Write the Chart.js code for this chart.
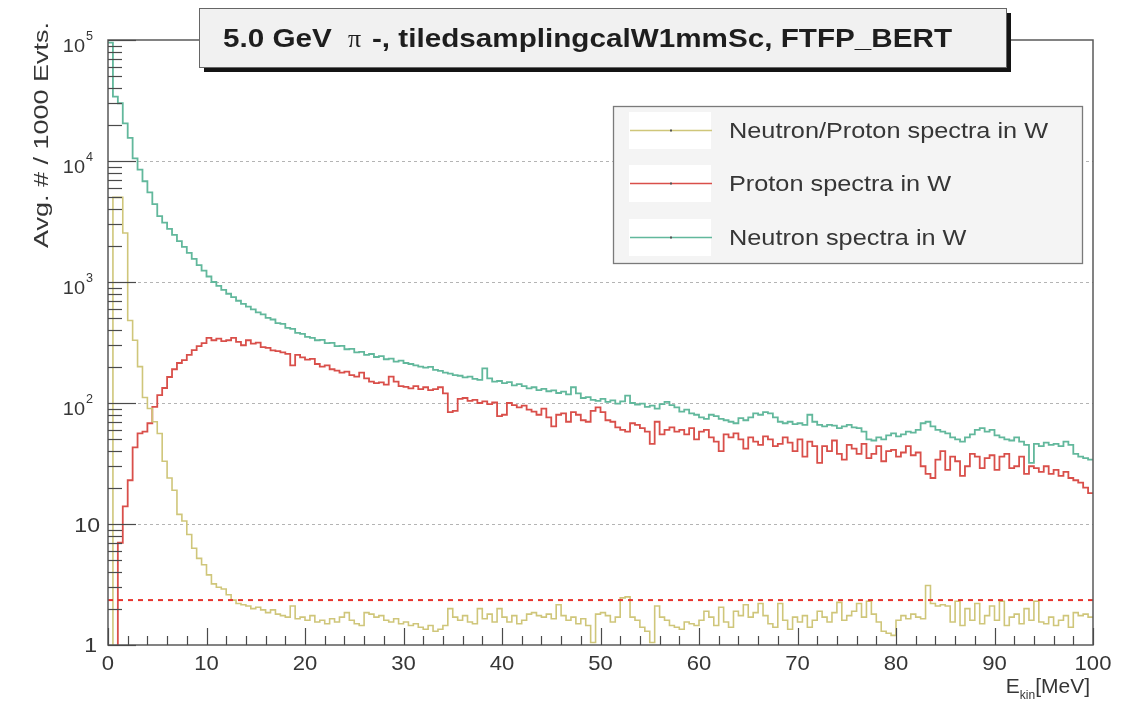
<!DOCTYPE html>
<html>
<head>
<meta charset="utf-8">
<script src="https://cdn.jsdelivr.net/npm/chart.js@4.4.0/dist/chart.umd.min.js"></script>
<style>
  html,body{margin:0;padding:0;background:#fff;}
</style>
</head>
<body>
<canvas id="c" width="1121" height="701"></canvas>
<script>
// E_kin spectra, 200 bins of 0.5 MeV from 0 to 100 MeV
const binWidth = 0.5;

const neutron = [
  95000, 34000, 30000, 20500, 15500, 10500, 8500, 6800, 5500, 4400,
  3500, 3100, 2750, 2450, 2180, 1950, 1740, 1550, 1380, 1240,
  1110, 1000, 930, 860, 800, 750, 700, 660, 625, 595,
  562, 540, 505, 490, 458, 450, 418, 410, 380, 372,
  352, 345, 330, 332, 312, 314, 295, 296, 278, 280,
  262, 265, 250, 254, 240, 244, 230, 233, 220, 224,
  214, 210, 205, 200, 196, 199, 188, 184, 178, 175,
  170, 168, 163, 165, 158, 155, 193, 160, 150, 152,
  146, 149, 140, 143, 138, 132, 135, 128, 131, 125,
  127, 121, 124, 118, 135, 120, 110, 112, 106, 104,
  108, 102, 105, 99, 103, 115, 100, 97, 99, 93,
  95, 90, 98, 102, 96, 92, 85, 88, 82, 80,
  76, 74, 80, 78, 74, 72, 70, 68, 75, 72,
  76, 82, 80, 84, 82, 76, 70, 68, 70, 67,
  68, 66, 80, 70, 66, 64, 66, 65, 62, 64,
  66, 63, 62, 58, 50, 49, 52, 50, 54, 56,
  53, 55, 58, 57, 60, 68, 70, 64, 60, 58,
  56, 52, 50, 48, 52, 55, 60, 62, 58, 60,
  54, 52, 50, 49, 52, 48, 45, 32, 46, 44,
  47, 45, 46, 44, 48, 45, 38, 36, 35, 34
];

const proton = [
  0, 0, 7, 14, 23, 43, 56, 58, 68, 93,
  116, 133, 164, 190, 214, 226, 250, 274, 295, 313,
  345, 330, 340, 325, 330, 345, 320, 300, 330, 310,
  315, 290, 285, 272, 268, 262, 255, 205, 250, 238,
  228, 232, 210, 200, 205, 190, 185, 178, 182, 170,
  165, 178, 160, 150, 146, 148, 142, 165, 150, 138,
  136, 132, 138, 130, 135, 128, 130, 135, 120, 84,
  86, 108, 110, 104, 106, 100, 103, 98, 101, 78,
  80, 100, 96, 92, 95, 88, 85, 80, 90, 76,
  64, 80, 82, 70, 84, 80, 72, 70, 86, 92,
  84, 72, 70, 63, 60, 58, 68, 66, 62, 58,
  46, 70, 55, 60, 63, 58, 60, 55, 62, 50,
  58, 60, 52, 48, 40, 55, 52, 56, 50, 42,
  52, 48, 45, 53, 50, 44, 46, 52, 47, 40,
  50, 36, 48, 44, 32, 44, 40, 49, 38, 34,
  45, 42, 38, 46, 35, 38, 44, 33, 40, 41,
  36, 39, 44, 37, 39, 30, 26, 24, 34, 40,
  28, 36, 33, 25, 30, 38, 36, 29, 35, 37,
  28, 36, 38, 29, 30, 36, 26, 30, 29, 27,
  30, 26, 28, 25, 27, 24, 23, 22, 20, 18
];

const ratio = [
  0, 5000, 5000, 2540, 480, 330, 200, 111, 90, 70,
  56, 33, 24, 19, 12, 10.6, 8.2, 6.3, 5.2, 4.6,
  3.8, 3.2, 3.0, 2.9, 2.6, 2.35, 2.2, 2.15, 2.1, 2.0,
  2.05, 1.95, 1.85, 1.95, 1.8, 1.75, 1.7, 2.1, 1.65, 1.7,
  1.6, 1.75, 1.55, 1.6, 1.5, 1.65, 1.55, 1.7, 1.85, 1.6,
  1.5, 1.45, 1.85, 1.8, 1.7, 1.75, 1.6, 1.55, 1.65, 1.5,
  1.55, 1.45, 1.5, 1.4, 1.35, 1.45, 1.3, 1.35, 1.45, 2.0,
  1.7, 1.6, 1.75, 1.55, 1.5, 2.0, 1.65, 1.8, 1.55, 2.0,
  1.7, 1.55, 1.75, 1.5, 1.6, 1.8, 1.85, 1.75, 1.7, 1.8,
  1.65, 2.15, 1.75, 1.6, 1.7, 1.5, 1.65, 1.45, 1.05, 1.8,
  1.85, 1.75, 1.55, 1.7, 2.45, 2.5, 1.7, 1.6, 1.4, 1.3,
  1.05, 2.1, 1.7, 1.6, 1.45, 1.4, 1.35, 1.55, 1.5, 1.45,
  1.6, 1.9, 1.7, 1.45, 2.05, 1.55, 1.4, 1.9, 1.75, 2.15,
  1.7, 1.85, 2.2, 1.75, 1.5, 1.4, 2.2, 1.6, 1.35, 1.7,
  1.55, 1.75, 1.4, 1.6, 1.9, 1.7, 1.55, 1.85, 2.25, 1.6,
  1.75, 1.9, 2.2, 1.7, 2.3, 1.8, 1.55, 1.3, 1.25, 1.2,
  1.6, 1.75, 1.65, 1.8, 1.7, 1.65, 3.1, 2.2, 2.1, 2.15,
  2.1, 1.55, 2.3, 1.45, 2.0, 1.6, 2.2, 1.5, 1.75, 2.1,
  1.6, 2.3, 1.45, 1.7, 1.8, 1.5, 2.0, 1.6, 2.3, 1.55,
  1.5, 1.7, 1.45, 1.6, 1.75, 1.4, 1.85, 1.75, 1.8, 1.7
];

const cutLevel = [2.35];
const xTicks = [0, 10, 20, 30, 40, 50, 60, 70, 80, 90, 100];
const yDecades = [1, 10, 100, 1000, 10000, 100000];
const legendLabels = ['Neutron/Proton spectra in W', 'Proton spectra in W', 'Neutron spectra in W'];
const titleParts = ['5.0 GeV', '\u03c0', '-, tiledsamplingcalW1mmSc, FTFP_BERT'];

const colRatio = '#cfc67a';
const colProton = '#d94f4a';
const colNeutron = '#62b89c';
const colCut = '#e8302b';
const sans = '"Liberation Sans", Arial, Helvetica, sans-serif';
const ink = '#363636';

// histogram -> step points at bin left edges; empty bins go below the log axis
function toSteps(vals){
    const pts = vals.map((v,i)=>({x:i*binWidth, y:v>0 ? v : 0.5}));
    pts.push({x:vals.length*binWidth, y:pts[pts.length-1].y});
    return pts;
}

function stretchText(ctx,str,x,y,sx,align){
    ctx.save();
    ctx.translate(x,y);
    ctx.scale(sx,1);
    ctx.textAlign=align||'left';
    ctx.fillText(str,0,0);
    ctx.restore();
}

const rootStyle = {
    id:'rootStyle',
    beforeDatasetsDraw(chart){
        const ctx=chart.ctx, a=chart.chartArea, ys=chart.scales.y;
        ctx.save();
        ctx.strokeStyle='#b4b4b4';
        ctx.lineWidth=1;
        ctx.setLineDash([3,3]);
        yDecades.slice(1,-1).forEach(v=>{
            const py=Math.round(ys.getPixelForValue(v))+0.5;
            ctx.beginPath();
            ctx.moveTo(a.left,py);
            ctx.lineTo(a.right,py);
            ctx.stroke();
        });
        ctx.restore();
    },
    afterDatasetsDraw(chart){
        const ctx=chart.ctx, a=chart.chartArea, xs=chart.scales.x, ys=chart.scales.y;
        ctx.save();
        // frame
        ctx.strokeStyle='#5a5a5a';
        ctx.lineWidth=1.5;
        ctx.strokeRect(a.left,a.top,a.right-a.left,a.bottom-a.top);

        // y ticks (inside)
        ctx.strokeStyle='#4a4a4a';
        ctx.lineWidth=1.2;
        for(let d=0; d<yDecades.length; d++){
            const base=yDecades[d];
            for(let m=1; m<=9; m++){
                const v=base*m;
                if(v>yDecades[yDecades.length-1]) break;
                const py=Math.round(ys.getPixelForValue(v))+0.5;
                const len=(m===1)?28:14;
                ctx.beginPath();
                ctx.moveTo(a.left,py);
                ctx.lineTo(a.left+len,py);
                ctx.stroke();
            }
        }
        // x ticks (inside)
        for(let e=0; e<=100; e+=2){
            const px=Math.round(xs.getPixelForValue(e))+0.5;
            const len=(e%10===0)?17:9;
            ctx.beginPath();
            ctx.moveTo(px,a.bottom);
            ctx.lineTo(px,a.bottom-len);
            ctx.stroke();
        }

        // tick labels
        ctx.fillStyle=ink;
        ctx.textBaseline='alphabetic';
        ctx.font='21px '+sans;
        xTicks.forEach(t=>{
            stretchText(ctx,String(t),xs.getPixelForValue(t),a.bottom+25,1.05,'center');
        });
        yDecades.forEach(v=>{
            const py=ys.getPixelForValue(v);
            const exp=Math.round(Math.log10(v));
            if(exp===0){
                ctx.font='21px '+sans;
                stretchText(ctx,'1',97,py+7,1.1,'right');
            }else if(exp===1){
                ctx.font='21px '+sans;
                stretchText(ctx,'10',100,py+8,1.1,'right');
            }else{
                ctx.font='19px '+sans;
                stretchText(ctx,'10',85,py+12,1.05,'right');
                ctx.font='12px '+sans;
                stretchText(ctx,String(exp),86,py+0,1.05,'left');
            }
        });

        // axis titles
        ctx.font='20px '+sans;
        const yTitle='Avg. # / 1000 Evts.';
        const ySx=226/ctx.measureText(yTitle).width;
        ctx.save();
        ctx.translate(48,248);
        ctx.rotate(-Math.PI/2);
        ctx.scale(ySx,1);
        ctx.textAlign='left';
        ctx.fillText(yTitle,0,0);
        ctx.restore();

        ctx.font='20px '+sans;
        stretchText(ctx,'[MeV]',1090,693,1.05,'right');
        const mevW=ctx.measureText('[MeV]').width*1.05;
        ctx.font='12px '+sans;
        const kinW=ctx.measureText('kin').width;
        stretchText(ctx,'kin',1090-mevW-kinW,699,1.0,'left');
        ctx.font='20px '+sans;
        stretchText(ctx,'E',1090-mevW-kinW,693,1.05,'right');

        // legend box
        const lg={x:613,y:106,w:469,h:157};
        ctx.fillStyle='#f4f4f4';
        ctx.fillRect(lg.x,lg.y,lg.w,lg.h);
        ctx.strokeStyle='#7a7a7a';
        ctx.lineWidth=1.3;
        ctx.strokeRect(lg.x+0.5,lg.y+0.5,lg.w,lg.h);
        const rows=[130,183,237];
        ctx.font='22px '+sans;
        const lgSx=319/ctx.measureText(legendLabels[0]).width;
        const order=[0,1,2];
        order.forEach((di,k)=>{
            const ds=chart.data.datasets[di];
            const cy=rows[k];
            ctx.fillStyle='#ffffff';
            ctx.fillRect(629,cy-18,82,37);
            ctx.strokeStyle=ds.borderColor;
            ctx.lineWidth=1.6;
            ctx.beginPath();
            ctx.moveTo(630,cy+0.5);
            ctx.lineTo(712,cy+0.5);
            ctx.stroke();
            ctx.fillStyle='#555';
            ctx.fillRect(670,cy-0.5,2,2);
            ctx.fillStyle=ink;
            stretchText(ctx,ds.label,729,cy+8,lgSx,'left');
        });

        // title box with shadow
        ctx.fillStyle='#141414';
        ctx.fillRect(204,13,807,59);
        ctx.fillStyle='#f1f1f1';
        ctx.fillRect(199,8,808,60);
        ctx.strokeStyle='#666';
        ctx.lineWidth=1;
        ctx.strokeRect(199.5,8.5,807,59);
        ctx.fillStyle='#1e1e1e';
        ctx.font='bold 26px '+sans;
        const tSx=580/ctx.measureText(titleParts[2]).width;
        stretchText(ctx,titleParts[0],223,47,tSx,'left');
        stretchText(ctx,titleParts[2],372,47,tSx,'left');
        ctx.font='26px "Liberation Serif", "DejaVu Serif", serif';
        stretchText(ctx,titleParts[1],348,47,1.0,'left');

        ctx.restore();
    }
};

const chart = new Chart(document.getElementById('c'), {
    type:'line',
    data:{
        datasets:[
            {label:legendLabels[0], data:toSteps(ratio), borderColor:colRatio, borderWidth:1.6, stepped:true, order:1},
            {label:legendLabels[1], data:toSteps(proton), borderColor:colProton, borderWidth:1.8, stepped:true, order:2},
            {label:legendLabels[2], data:toSteps(neutron), borderColor:colNeutron, borderWidth:1.8, stepped:true, order:3},
            {label:'cut', data:[{x:0,y:cutLevel[0]},{x:100,y:cutLevel[0]}], borderColor:colCut, borderWidth:2, borderDash:[5,5], order:0}
        ]
    },
    options:{
        responsive:false,
        animation:false,
        events:[],
        layout:{padding:{left:108,right:28,top:40,bottom:56}},
        elements:{point:{radius:0}, line:{tension:0, fill:false}},
        scales:{
            x:{type:'linear', min:0, max:100, display:false},
            y:{type:'logarithmic', min:1, max:100000, display:false}
        },
        plugins:{legend:{display:false}, tooltip:{enabled:false}}
    },
    plugins:[rootStyle]
});
</script>
</body>
</html>
